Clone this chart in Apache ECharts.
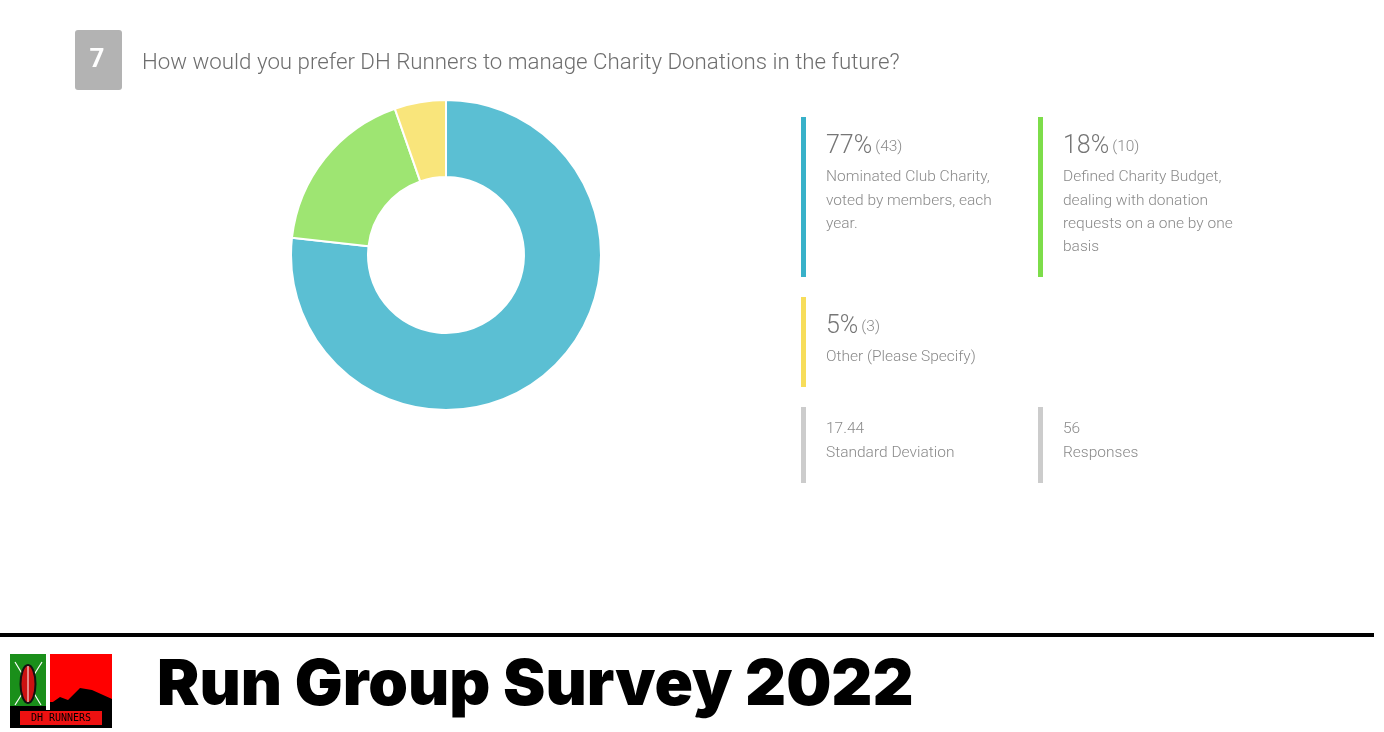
<!DOCTYPE html>
<html><head><meta charset="utf-8">
<script src="https://cdn.jsdelivr.net/npm/echarts@6/dist/echarts.min.js"></script>
<style>html,body{margin:0;padding:0;background:#fff}#c{width:1384px;height:732px}</style>
</head><body><div id="c"></div>
<script>
const categories = ["Nominated Club Charity, voted by members, each year.", "Defined Charity Budget, dealing with donation requests on a one by one basis", "Other (Please Specify)"];
const counts = [43, 10, 3];
const percents = ["77%", "18%", "5%"];
const descLines = [["Nominated Club Charity,", "voted by members, each", "year."], ["Defined Charity Budget,", "dealing with donation", "requests on a one by one", "basis"], ["Other (Please Specify)"]];
const stats = [["17.44", "Standard Deviation"], ["56", "Responses"]];
const questionNo = "7";
const question = "How would you prefer DH Runners to manage Charity Donations in the future?";
const footerTitle = "Run Group Survey 2022";

const sliceColors = ["#5bbfd3", "#9ee572", "#f9e57b"];
const barColors = ["#38b1c9", "#7ddd4a", "#f7dd5a"];
const FONT = "Roboto";

const chart = echarts.init(document.getElementById('c'));
const g = [];
// header
g.push({type:'rect', shape:{x:75,y:30,width:47,height:60,r:3}, style:{fill:'#b3b3b3'}});
g.push({type:'text', x:97, y:60, style:{text:questionNo, fill:'#fff', font:'bold 26px '+FONT, align:'center', verticalAlign:'middle'}});
g.push({type:'text', x:142, y:63, style:{text:question, fill:'#6e6e6e', font:'300 22.3px '+FONT, verticalAlign:'middle'}});

// legend blocks
const blocks = [{x:801,y:117,h:160},{x:1038,y:117,h:160},{x:801,y:297,h:90}];
blocks.forEach((b,i)=>{
  g.push({type:'rect', shape:{x:b.x,y:b.y,width:5,height:b.h}, style:{fill:barColors[i]}});
  g.push({type:'text', x:b.x+25, y:b.y+30, style:{
    rich:{p:{font:'300 25px '+FONT, fill:'#767676'}, c:{font:'300 15.5px '+FONT, fill:'#8a8a8a', padding:[0,0,0,3]}},
    text:'{p|'+percents[i]+'}{c|('+counts[i]+')}', verticalAlign:'middle'}});
  descLines[i].forEach((ln,j)=>{
    g.push({type:'text', x:b.x+25, y:b.y+60.5+j*23.3, style:{text:ln, font:'300 15.5px '+FONT, fill:'#8a8a8a', verticalAlign:'middle'}});
  });
});
const sb = [{x:801,y:407},{x:1038,y:407}];
stats.forEach((s,i)=>{
  const b = sb[i];
  g.push({type:'rect', shape:{x:b.x,y:b.y,width:5,height:76}, style:{fill:'#cccccc'}});
  g.push({type:'text', x:b.x+25, y:b.y+22.5, style:{text:s[0], font:'300 15.5px '+FONT, fill:'#8a8a8a', verticalAlign:'middle'}});
  g.push({type:'text', x:b.x+25, y:b.y+46.5, style:{text:s[1], font:'300 15.5px '+FONT, fill:'#8a8a8a', verticalAlign:'middle'}});
});

// footer
g.push({type:'rect', shape:{x:0,y:633,width:1374,height:4}, style:{fill:'#000'}});
g.push({type:'text', x:157, y:686, style:{text:footerTitle, font:'900 63.6px Inter', fill:'#000', verticalAlign:'middle'}});
// logo
g.push({type:'rect', shape:{x:10,y:654,width:102,height:74}, style:{fill:'#000'}});
g.push({type:'rect', shape:{x:10,y:654,width:36,height:52}, style:{fill:'#1a8f1a'}});
g.push({type:'rect', shape:{x:46,y:654,width:4,height:56}, style:{fill:'#fff'}});
g.push({type:'rect', shape:{x:50,y:654,width:62,height:48}, style:{fill:'#ff0000'}});
g.push({type:'polygon', shape:{points:[[50,704],[60,697],[68,700],[80,688],[92,690],[112,699],[112,712],[50,712]]}, style:{fill:'#000'}});
g.push({type:'line', shape:{x1:15,y1:662,x2:41,y2:705}, style:{stroke:'#fff',lineWidth:1.2}});
g.push({type:'line', shape:{x1:42,y1:662,x2:15,y2:705}, style:{stroke:'#fff',lineWidth:1.2}});
g.push({type:'ellipse', shape:{cx:28,cy:684,rx:7.5,ry:19}, style:{fill:'#cc1111', stroke:'#111', lineWidth:2}});
g.push({type:'line', shape:{x1:28,y1:666,x2:28,y2:702}, style:{stroke:'#fff',lineWidth:1}});
g.push({type:'rect', shape:{x:20,y:711,width:82,height:14}, style:{fill:'#ee1111'}});
g.push({type:'text', x:61, y:718, style:{text:'DH RUNNERS', font:'10px "DejaVu Sans Mono"', fill:'#000', align:'center', verticalAlign:'middle'}});

chart.setOption({
  animation:false,
  series:[{
    type:'pie',
    center:[446,255],
    radius:[78,155],
    startAngle:90,
    clockwise:true,
    label:{show:false},
    labelLine:{show:false},
    itemStyle:{borderColor:'#fff', borderWidth:2},
    emphasis:{disabled:true},
    data: categories.map((c,i)=>({name:c, value:counts[i], itemStyle:{color:sliceColors[i]}}))
  }],
  graphic: g
});
</script></body></html>
